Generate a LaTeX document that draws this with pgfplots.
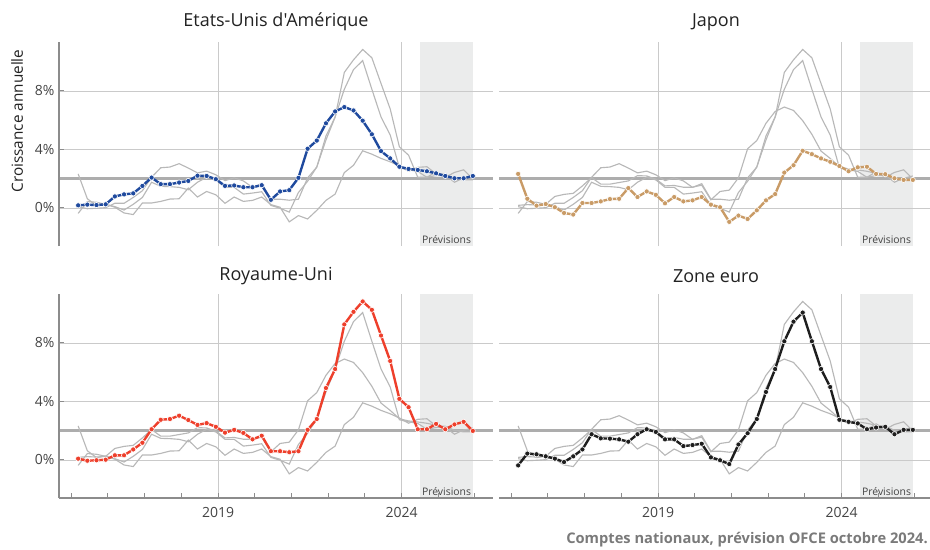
\documentclass[border=0pt]{standalone}
\usepackage{fontspec}
\setmainfont{Open Sans}
\newfontfamily\plainfont{Open Sans}
\usepackage{pgfplots}
\pgfplotsset{compat=1.18}
\usepackage{pgfplotstable}

\definecolor{usblue}{HTML}{1F4A9E}
\definecolor{jptan}{HTML}{C99B66}
\definecolor{ukred}{HTML}{EE3F2B}
\definecolor{ezblack}{HTML}{1E1E1E}
\definecolor{othergray}{HTML}{B8B8B8}
\definecolor{refgray}{HTML}{ADADAD}
\definecolor{gridc}{HTML}{CACACA}
\definecolor{shadec}{HTML}{EBECEC}
\definecolor{axc}{HTML}{8C8C8C}
\definecolor{txtc}{HTML}{222222}
\definecolor{tickc}{HTML}{444444}
\definecolor{footc}{HTML}{7A7A7A}

% inflation annuelle, trimestrielle 2015T1-2025T4
\pgfplotstableread{
x       us    jp    uk    ez
2015.19 0.18  2.33  0.09  -0.37
2015.44 0.23  0.63  -0.05 0.44
2015.69 0.20  0.16  -0.02 0.39
2015.94 0.25  0.27  0.02  0.25
2016.19 0.79  0.05  0.32  0.09
2016.44 0.93  -0.34 0.32  -0.14
2016.69 1.00  -0.45 0.72  0.25
2016.94 1.51  0.34  1.18  0.72
2017.19 2.08  0.34  2.10  1.76
2017.44 1.63  0.45  2.75  1.48
2017.69 1.63  0.61  2.80  1.46
2017.94 1.74  0.63  3.03  1.41
2018.19 1.85  1.36  2.73  1.25
2018.44 2.21  0.75  2.40  1.76
2018.69 2.19  1.13  2.52  2.10
2018.94 1.97  0.90  2.27  1.92
2019.19 1.51  0.32  1.87  1.41
2019.44 1.54  0.75  2.06  1.41
2019.69 1.42  0.45  1.85  0.95
2019.94 1.42  0.52  1.41  1.02
2020.19 1.56  0.75  1.66  1.11
2020.44 0.56  0.23  0.60  0.18
2020.69 1.13  0.05  0.60  -0.02
2020.94 1.22  -0.95 0.53  -0.28
2021.19 2.06  -0.52 0.60  1.06
2021.44 4.05  -0.75 2.06  1.83
2021.69 4.61  -0.16 2.80  2.80
2021.94 5.79  0.52  4.92  4.65
2022.19 6.60  0.95  6.22  6.22
2022.44 6.90  2.42  9.27  8.12
2022.69 6.67  2.92  10.13 9.46
2022.94 5.97  3.91  10.84 10.08
2023.19 5.04  3.68  10.27 8.12
2023.44 3.89  3.39  8.51  6.22
2023.69 3.39  3.16  6.77  4.99
2023.94 2.82  2.87  4.18  2.75
2024.19 2.67  2.51  3.61  2.61
2024.44 2.60  2.78  2.10  2.50
2024.69 2.51  2.82  2.10  2.10
2024.94 2.37  2.33  2.47  2.22
2025.19 2.19  2.31  2.10  2.27
2025.44 2.03  2.03  2.43  1.76
2025.69 2.03  1.92  2.61  2.06
2025.94 2.19  1.92  1.99  2.06
}\infl

\pgfplotsset{
  set layers,
  panel/.style={
    scale only axis, width=325.5pt, height=153pt, anchor=south west,
    xmin=2014.668, xmax=2026.49, ymin=-2.6, ymax=11.35,
    axis line style={draw=none}, clip mode=individual,
    xtick={2019,2024}, ytick={0,4,8},
    xticklabels={}, yticklabels={},
    grid=major, major grid style={gridc, line width=0.6pt},
    tick align=inside, tick pos=left,
    major tick length=3.5pt, minor tick length=3.5pt,
    xtick style={draw=none}, ytick style={draw=none},
    tick label style={font=\fontsize{10.5}{12}\selectfont, text=tickc},
    /pgf/number format/assume math mode=true,
  },
  leftp/.style={yticklabels={0\%,4\%,8\%}, ytick style={draw=axc, line width=0.75pt}},
  bottomp/.style={xticklabels={2019,2024}, minor xtick={2015,...,2026},
    xtick style={draw=axc, line width=0.75pt},
    xticklabel style={yshift=-3.5pt}},
  other/.style={othergray, line width=0.85pt, no markers},
  main/.style={#1, line width=1.8pt, mark=*, mark size=1.95pt,
    mark options={fill=#1, draw=white, line width=0.45pt}},
}

\newcommand{\decor}{%
  \begin{pgfonlayer}{axis background}
    \fill[shadec] (axis cs:2024.5,-2.6) rectangle (axis cs:2025.95,11.35);
  \end{pgfonlayer}
  \node[anchor=south, font=\fontsize{7.8}{9}\selectfont, text=tickc, inner sep=1.5pt]
    at (axis cs:2025.225,-2.6) {Prévisions};
  \addplot[refgray, line width=1.9pt, forget plot] coordinates {(2014.668,2) (2026.49,2)};
}

\begin{document}
\begin{tikzpicture}

% Etats-Unis
\begin{axis}[panel, leftp, at={(44.25pt,-184.5pt)}]
\decor
\addplot[other] table[x=x,y=jp] {\infl};
\addplot[other] table[x=x,y=uk] {\infl};
\addplot[other] table[x=x,y=ez] {\infl};
\addplot[main=usblue] table[x=x,y=us] {\infl};
\draw[axc, line width=1.1pt] (rel axis cs:0,0) -- (rel axis cs:0,1);
\end{axis}

% Japon
\begin{axis}[panel, at={(374.25pt,-184.5pt)}]
\decor
\addplot[other] table[x=x,y=us] {\infl};
\addplot[other] table[x=x,y=uk] {\infl};
\addplot[other] table[x=x,y=ez] {\infl};
\addplot[main=jptan] table[x=x,y=jp] {\infl};
\end{axis}

% Royaume-Uni
\begin{axis}[panel, leftp, bottomp, at={(44.25pt,-373.5pt)}]
\decor
\addplot[other] table[x=x,y=us] {\infl};
\addplot[other] table[x=x,y=jp] {\infl};
\addplot[other] table[x=x,y=ez] {\infl};
\addplot[main=ukred] table[x=x,y=uk] {\infl};
\draw[axc, line width=1.1pt] (rel axis cs:0,0) -- (rel axis cs:0,1);
\draw[axc, line width=1.1pt] (rel axis cs:0,0) -- (rel axis cs:1,0);
\end{axis}

% Zone euro
\begin{axis}[panel, bottomp, at={(374.25pt,-373.5pt)}]
\decor
\addplot[other] table[x=x,y=us] {\infl};
\addplot[other] table[x=x,y=jp] {\infl};
\addplot[other] table[x=x,y=uk] {\infl};
\addplot[main=ezblack] table[x=x,y=ez] {\infl};
\draw[axc, line width=1.1pt] (rel axis cs:0,0) -- (rel axis cs:1,0);
\end{axis}

\begin{scope}[font=\plainfont\fontsize{13.5}{15}\selectfont, text=txtc]
\node at (207pt,-16.5pt) {Etats-Unis d'Amérique};
\node at (537pt,-16.5pt) {Japon};
\node at (207pt,-207pt) {Royaume-Uni};
\node at (537pt,-207pt) {Zone euro};
\end{scope}
\node[rotate=90, font=\fontsize{11.5}{13}\selectfont, text=txtc] at (12.75pt,-90.75pt) {Croissance annuelle};
\node[anchor=east, font=\bfseries\fontsize{11}{13}\selectfont, text=footc, inner sep=0pt] at (696pt,-405pt) {Comptes nationaux, prévision OFCE octobre 2024.};

\pgfresetboundingbox
\path[use as bounding box] (0,0) rectangle (697.5pt,-411.75pt);
\end{tikzpicture}
\end{document}
